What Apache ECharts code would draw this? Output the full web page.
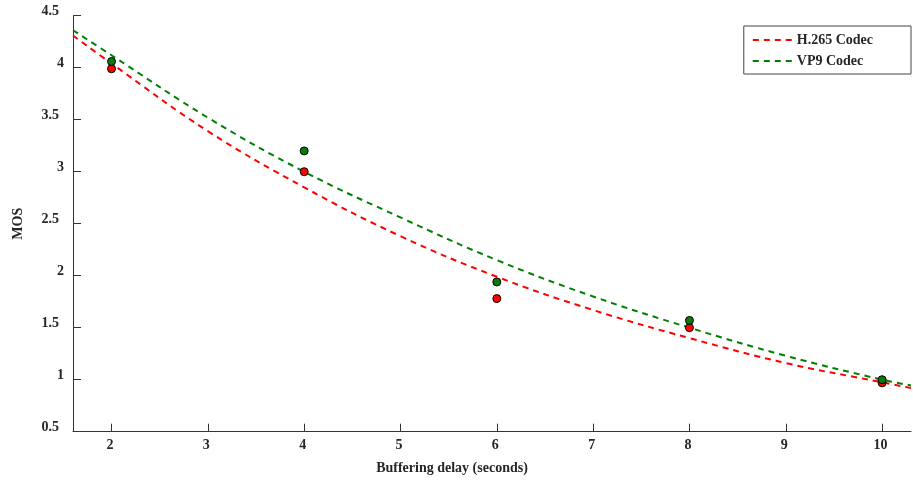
<!DOCTYPE html>
<html>
<head>
<meta charset="utf-8">
<script src="https://cdn.jsdelivr.net/npm/echarts@6/dist/echarts.min.js"></script>
<style>
  html, body { margin: 0; padding: 0; background: #fff; }
  #chart { width: 913px; height: 482px; }
</style>
</head>
<body>
<div id="chart"></div>
<script>
// fitted curves
var fitX = [1.6, 2, 3, 4, 5, 6, 7, 8, 9, 10, 10.3];
var h265Fit = [4.31, 4.04, 3.39, 2.85, 2.38, 1.99, 1.67, 1.40, 1.16, 0.975, 0.92];
var vp9Fit = [4.36, 4.12, 3.52, 3.00, 2.56, 2.15, 1.80, 1.50, 1.23, 1.00, 0.945];

// measured MOS points
var delays = [2, 4, 6, 8, 10];
var h265Mos = [3.99, 3.0, 1.78, 1.5, 0.97];
var vp9Mos = [4.06, 3.2, 1.94, 1.57, 1.0];

var xTicks = [2, 3, 4, 5, 6, 7, 8, 9, 10];

function pairs(xs, ys) {
    return xs.map(function (x, i) {
        return [x, ys[i]];
    });
}

var font = 'Liberation Serif';
var textColor = '#262626';

var myChart = echarts.init(document.getElementById('chart'));

var option = {
    animation: false,
    grid: {
        left: 73,
        right: 2,
        top: 15.7,
        bottom: 50.3
    },
    legend: {
        orient: 'vertical',
        right: 2,
        top: 26,
        data: ['H.265 Codec', 'VP9 Codec'],
        itemWidth: 39,
        itemHeight: 14,
        itemGap: 7,
        itemStyle: {opacity: 0},
        padding: [7, 38, 6, 8],
        borderColor: '#444',
        borderWidth: 1,
        textStyle: {
            fontFamily: font,
            fontWeight: 'bold',
            fontSize: 14,
            color: textColor
        }
    },
    xAxis: {
        type: 'value',
        min: 1.6,
        max: 10.3,
        name: 'Buffering delay (seconds)',
        nameLocation: 'middle',
        nameGap: 30,
        nameTextStyle: {
            fontFamily: font,
            fontWeight: 'bold',
            fontSize: 14,
            color: textColor,
            padding: [0, 80, 0, 0]
        },
        splitLine: {show: false},
        axisLine: {lineStyle: {color: '#333', width: 1}},
        axisTick: {
            inside: true,
            length: 8,
            customValues: xTicks,
            lineStyle: {color: '#333'}
        },
        axisLabel: {
            customValues: xTicks,
            margin: 7,
            padding: [0, 3, 0, 0],
            fontFamily: font,
            fontWeight: 'bold',
            fontSize: 14,
            color: textColor
        }
    },
    yAxis: {
        type: 'value',
        min: 0.5,
        max: 4.5,
        interval: 0.5,
        name: 'MOS',
        nameLocation: 'middle',
        nameGap: 48,
        nameTextStyle: {
            fontFamily: font,
            fontWeight: 'bold',
            fontSize: 14,
            color: textColor
        },
        splitLine: {show: false},
        axisLine: {show: true, lineStyle: {color: '#333', width: 1}},
        axisTick: {
            show: true,
            inside: true,
            length: 8,
            lineStyle: {color: '#333'}
        },
        axisLabel: {
            margin: 9,
            verticalAlign: 'bottom',
            fontFamily: font,
            fontWeight: 'bold',
            fontSize: 14,
            color: textColor,
            formatter: function (v) {
                // decimals sit a little further from the axis than whole numbers
                return v % 1 === 0 ? '{i|' + v + '}' : '{d|' + v + '}';
            },
            rich: {
                i: {lineHeight: 9},
                d: {lineHeight: 9, padding: [0, 5, 0, 0]}
            }
        }
    },
    series: [{
        name: 'H.265 Codec',
        type: 'line',
        smooth: 0.4,
        symbol: 'none',
        color: '#ff0000',
        lineStyle: {color: '#ff0000', width: 2, type: [6, 5]},
        data: pairs(fitX, h265Fit)
    }, {
        name: 'VP9 Codec',
        type: 'line',
        smooth: 0.4,
        symbol: 'none',
        color: '#008000',
        lineStyle: {color: '#008000', width: 2, type: [6, 5]},
        data: pairs(fitX, vp9Fit)
    }, {
        name: 'H.265 points',
        type: 'scatter',
        symbol: 'circle',
        symbolSize: 8,
        z: 5,
        itemStyle: {color: '#ff0000', borderColor: '#000', borderWidth: 1, opacity: 1},
        data: pairs(delays, h265Mos)
    }, {
        name: 'VP9 points',
        type: 'scatter',
        symbol: 'circle',
        symbolSize: 8,
        z: 6,
        itemStyle: {color: '#0a7a0a', borderColor: '#000', borderWidth: 1, opacity: 1},
        data: pairs(delays, vp9Mos)
    }]
};

myChart.setOption(option);
</script>
</body>
</html>
